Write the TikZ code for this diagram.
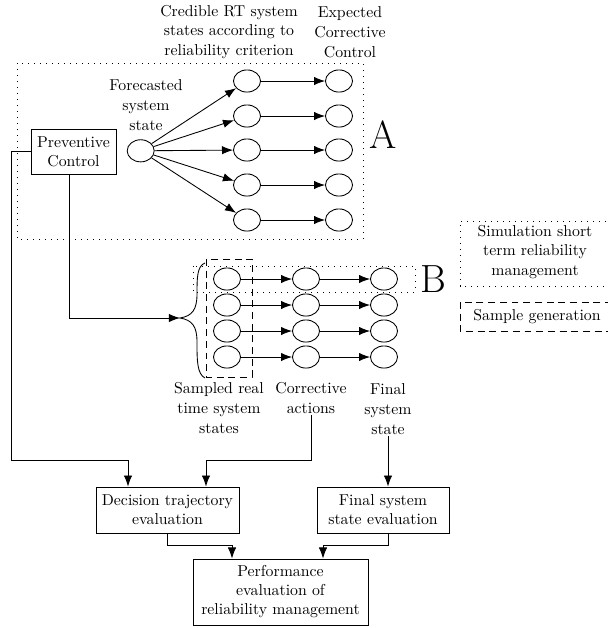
\documentclass[tikz,border=0pt]{standalone}
\usetikzlibrary{shapes.geometric,arrows.meta,calc}
\begin{document}
\begin{tikzpicture}[x=0.633pt,y=-0.633pt,
  ell/.style={ellipse,draw,line width=0.55pt,minimum width=17.1pt,minimum height=14pt,inner sep=0pt},
  box/.style={draw,line width=0.55pt,align=center,inner sep=0pt,font=\fontsize{10}{12}\selectfont},
  lbl/.style={align=center,inner sep=1pt,font=\fontsize{10}{12.5}\selectfont},
  arr/.style={-{Latex[length=7pt,width=5.3pt]},line width=0.55pt},
  ln/.style={line width=0.55pt},
  dotbox/.style={line width=0.6pt,dash pattern=on 0.6pt off 3.2pt},
  dashbox/.style={line width=0.55pt,dash pattern=on 4.4pt off 3pt}]
\useasboundingbox (0,0) rectangle (608,628);

% frames
\draw[dotbox] (17,63) rectangle (363,239);
\draw[dotbox] (193,266) rectangle (415,292);
\draw[dashbox] (206,259) rectangle (252,377);
\draw[dotbox] (612,221) -- (460,221) -- (460,286) -- (612,286);
\draw[dashbox] (612,302) -- (460,302) -- (460,331) -- (612,331);

% labels
\node[lbl] (cred) at (229,32) {Credible RT system\\states according to\\reliability criterion};
\node[lbl] (exp) at (350,32) {Expected\\Corrective\\Control};
\node[lbl] (fst) at (146,105) {Forecasted\\system\\state};
\node[lbl] (samp) at (219,408) {Sampled real\\time system\\states};
\node[lbl] (corr) at (311,398) {Corrective\\actions};
\node[lbl] (fin) at (388,409) {Final\\system\\state};
\node[lbl] (leg1) at (535,252) {Simulation short\\term reliability\\management};
\node[lbl] (leg2) at (537,316.5) {Sample generation};
\node[inner sep=0pt,font=\Huge] (lA) at (383,135) {A};
\node[inner sep=0pt,font=\Huge] (lB) at (433,279) {B};

% boxes
\node[box,minimum width=53.8pt,minimum height=28.5pt] (pc) at (73.5,151.5) {Preventive\\Control};
\node[box,minimum width=90.5pt,minimum height=29.1pt] (dte) at (167.5,510) {Decision trajectory\\evaluation};
\node[box,minimum width=83.6pt,minimum height=29.1pt] (fse) at (383,510) {Final system\\state evaluation};
\node[box,minimum width=110.8pt,minimum height=41.8pt] (perf) at (280.5,592) {Performance\\evaluation of\\reliability management};

% ellipses A
\node[ell] (fc) at (140.7,150.8) {};
\foreach \i/\y in {1/81,2/116,3/150,4/185,5/220}{
  \node[ell] (m\i) at (247,\y) {};
  \node[ell] (r\i) at (339,\y) {};
  \draw[arr] (fc) -- (m\i);
  \draw[arr] (m\i) -- (r\i);
}

% ellipses B
\foreach \i/\y in {1/279,2/305,3/331,4/357}{
  \node[ell] (s\i) at (227,\y) {};
  \node[ell] (c\i) at (306,\y) {};
  \node[ell] (f\i) at (384,\y) {};
  \draw[arr] (s\i) -- (c\i);
  \draw[arr] (c\i) -- (f\i);
}

% brace
\coordinate (bt) at (180,318);
\draw[ln] (205,263) .. controls (197,266) and (197,278) .. (197,294)
  .. controls (197,310) and (192,316) .. (bt)
  .. controls (192,320) and (197,326) .. (197,342)
  .. controls (197,360) and (197,374) .. (205,378);

% connectors
\draw[arr] ($(pc.south)+(-4.5,0)$) |- (bt);
\draw[arr] (pc.west) -- ++(-19.5,0) |- ($(dte.north)+(-39.5,-26)$) -- ($(dte.north)+(-39.5,0)$);
\draw[arr] (corr.south) |- ($(dte.north)+(38.5,-26)$) -- ($(dte.north)+(38.5,0)$);
\draw[arr] (fin.south) -- (fin.south |- fse.north);
\draw[arr] (dte.south) |- ($(perf.north)+(-48.5,-13)$) -- ($(perf.north)+(-48.5,0)$);
\draw[arr] ($(fse.south)+(5,0)$) |- ($(perf.north)+(42.5,-13)$) -- ($(perf.north)+(42.5,0)$);
\end{tikzpicture}
\end{document}
